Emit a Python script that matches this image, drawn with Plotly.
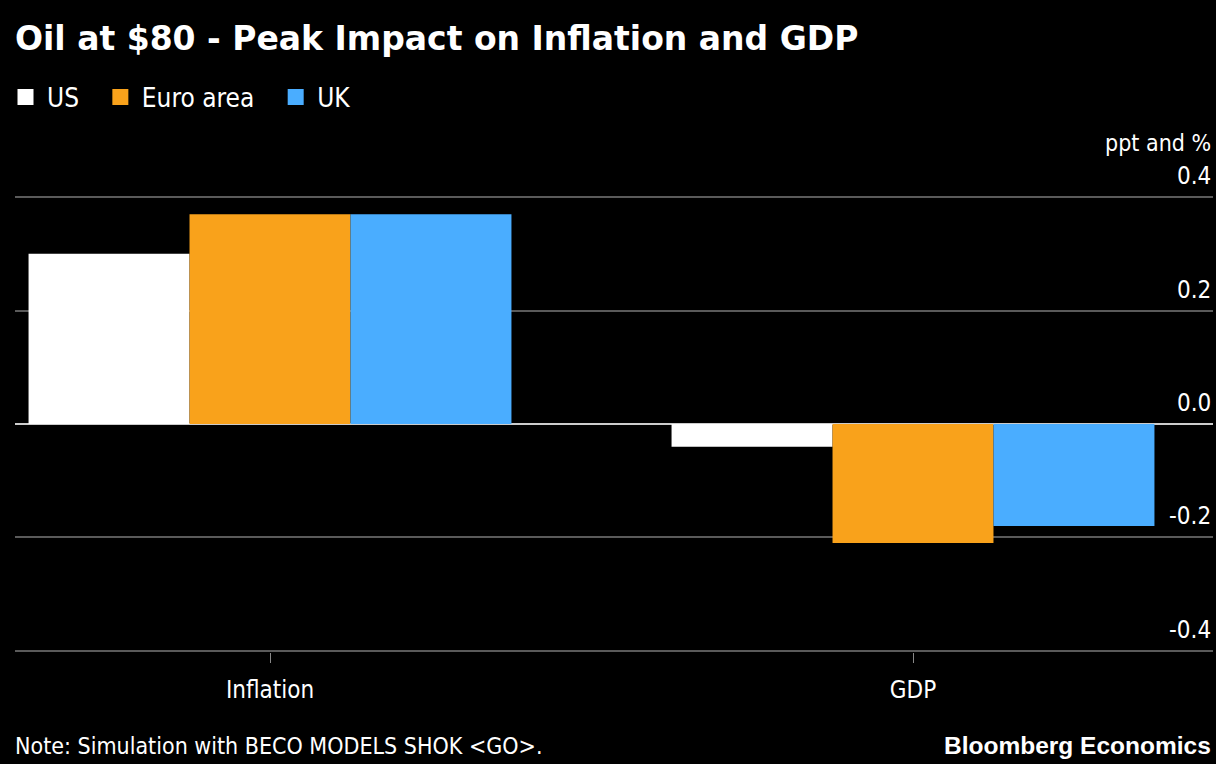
import plotly.graph_objects as go

categories = ["Inflation", "GDP"]
series_names = ["US", "Euro area", "UK"]
us_values = [0.30, -0.04]
euro_values = [0.37, -0.21]
uk_values = [0.37, -0.18]
y_ticks = [0.4, 0.2, 0.0, -0.2, -0.4]
y_tick_labels = ["0.4", "0.2", "0.0", "-0.2", "-0.4"]

colors = ["#ffffff", "#f9a21b", "#4aadff"]
body_font = "DejaVu Sans Condensed, DejaVu Sans"

fig = go.Figure()
for name, vals, col in zip(series_names, [us_values, euro_values, uk_values], colors):
    fig.add_trace(go.Bar(x=categories, y=vals, name=name, showlegend=False,
                         marker=dict(color=col, line=dict(width=0))))
# legend entries with larger square swatches
for name, col in zip(series_names, colors):
    fig.add_trace(go.Scatter(x=[None], y=[None], mode="markers", name=name + "\u00a0\u00a0",
                             marker=dict(symbol="square", size=16, color=col)))

W, H = 1216, 764
left, right, top, bottom = 15, 1213, 197, 651
cat_px = [270, 913]
spacing = cat_px[1] - cat_px[0]
x_lo = (left - cat_px[0]) / spacing
x_hi = (right - cat_px[0]) / spacing
y_pad = 0.002
px_per_unit = (bottom - top) / 0.8
pad_px = y_pad * px_per_unit
top_m = top - pad_px
bot_m = bottom + pad_px


def px_x(p):
    return (p - left) / (right - left)


def px_y(p):
    return (bot_m - p) / (bot_m - top_m)


fig.update_layout(
    width=W, height=H,
    paper_bgcolor="black", plot_bgcolor="black",
    margin=dict(l=left, r=W - right, t=top_m, b=H - bot_m, pad=0),
    barmode="group", bargap=0.249, bargroupgap=0,
    font=dict(family=body_font, color="white", size=20),
    showlegend=True,
    legend=dict(orientation="h", xref="container", yref="container", x=4 / W, y=1 - 97 / H,
                xanchor="left", yanchor="middle", font=dict(size=26, family=body_font, color="white"),
                itemwidth=33, tracegroupgap=0, bgcolor="rgba(0,0,0,0)"),
    xaxis=dict(type="category", range=[x_lo, x_hi], showgrid=False, zeroline=False,
               ticks="outside", ticklen=10, tickcolor="#888", tickwidth=1,
               tickfont=dict(size=24, family=body_font, color="white"), showline=False,
               ticklabelstandoff=6),
    yaxis=dict(range=[-0.4 - y_pad, 0.4 + y_pad], tickvals=y_ticks, showticklabels=False, showgrid=True,
               gridcolor="#5a5a5a", gridwidth=2, zeroline=True, zerolinecolor="#cccccc",
               zerolinewidth=2, fixedrange=True),
)

for v, lab in zip(y_ticks, y_tick_labels):
    fig.add_annotation(x=1, xref="paper", xanchor="right", y=v, yref="y", yanchor="bottom",
                       yshift=5, text=lab, showarrow=False,
                       font=dict(size=24, family=body_font, color="white"))

fig.add_annotation(x=1, xref="paper", xanchor="right", y=px_y(143), yref="paper",
                   yanchor="middle", text="ppt and %", showarrow=False,
                   font=dict(size=23, family=body_font, color="white"))

fig.add_annotation(x=px_x(13), xref="paper", xanchor="left", y=px_y(38), yref="paper",
                   yanchor="middle", text="<b>Oil at $80 - Peak Impact on Inflation and GDP</b>",
                   showarrow=False, font=dict(size=33, family="DejaVu Sans", color="white"))

fig.add_annotation(x=px_x(13), xref="paper", xanchor="left", y=px_y(746), yref="paper",
                   yanchor="middle", text="Note: Simulation with BECO MODELS SHOK <GO>.",
                   showarrow=False, font=dict(size=23, family=body_font, color="white"))

fig.add_annotation(x=px_x(1213), xref="paper", xanchor="right", y=px_y(746), yref="paper",
                   yanchor="middle", text="<b>Bloomberg Economics</b>",
                   showarrow=False, font=dict(size=24.5, family="Liberation Sans, Arial", color="white"))

fig.write_html("out.html")
